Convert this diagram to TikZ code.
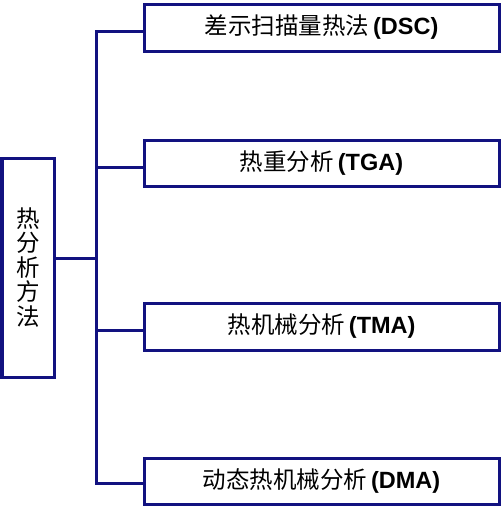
\documentclass[tikz,border=0pt]{standalone}
\usepackage{fontspec}
\setmainfont{Liberation Sans}
\newfontfamily\cjk{Noto Sans CJK SC}
\definecolor{navy}{RGB}{18,18,128}
\begin{document}
\begin{tikzpicture}[x=1pt,y=-1pt,
  box/.style={draw=navy,line width=3pt,fill=white,inner sep=0pt,minimum width=355pt,text=black,font=\fontsize{23.5}{26}\selectfont},
  conn/.style={draw=navy,line width=3pt}]
\useasboundingbox (0,0) rectangle (501,507);
\node[draw=navy,line width=3pt,inner sep=0pt,minimum width=52pt,minimum height=219pt,align=center,
  font=\fontsize{23.5}{24.5}\selectfont\cjk] (L) at (28,267.5) {热\\分\\析\\方\\法};
\node[box,minimum height=47pt] (b1) at (321.5,27.5) {{\cjk 差示扫描量热法}\,\textbf{(DSC)}};
\node[box,minimum height=46pt] (b2) at (321.5,163) {{\cjk 热重分析}\,\textbf{(TGA)}};
\node[box,minimum height=47pt] (b3) at (321.5,326.5) {{\cjk 热机械分析}\,\textbf{(TMA)}};
\node[box,minimum height=46pt] (b4) at (321.5,481) {{\cjk 动态热机械分析}\,\textbf{(DMA)}};
\coordinate (t0) at (96,258);
\coordinate (t1) at (96,31);
\coordinate (t2) at (96,167);
\coordinate (t3) at (96,330);
\coordinate (t4) at (96,483);
\draw[conn] (L.east |- t0) -- (t0);
\draw[conn,line join=miter] (b1.west |- t1) -- (t1) -- (t4) -- (b4.west |- t4);
\draw[conn] (t2) -- (b2.west |- t2);
\draw[conn] (t3) -- (b3.west |- t3);
\end{tikzpicture}
\end{document}
